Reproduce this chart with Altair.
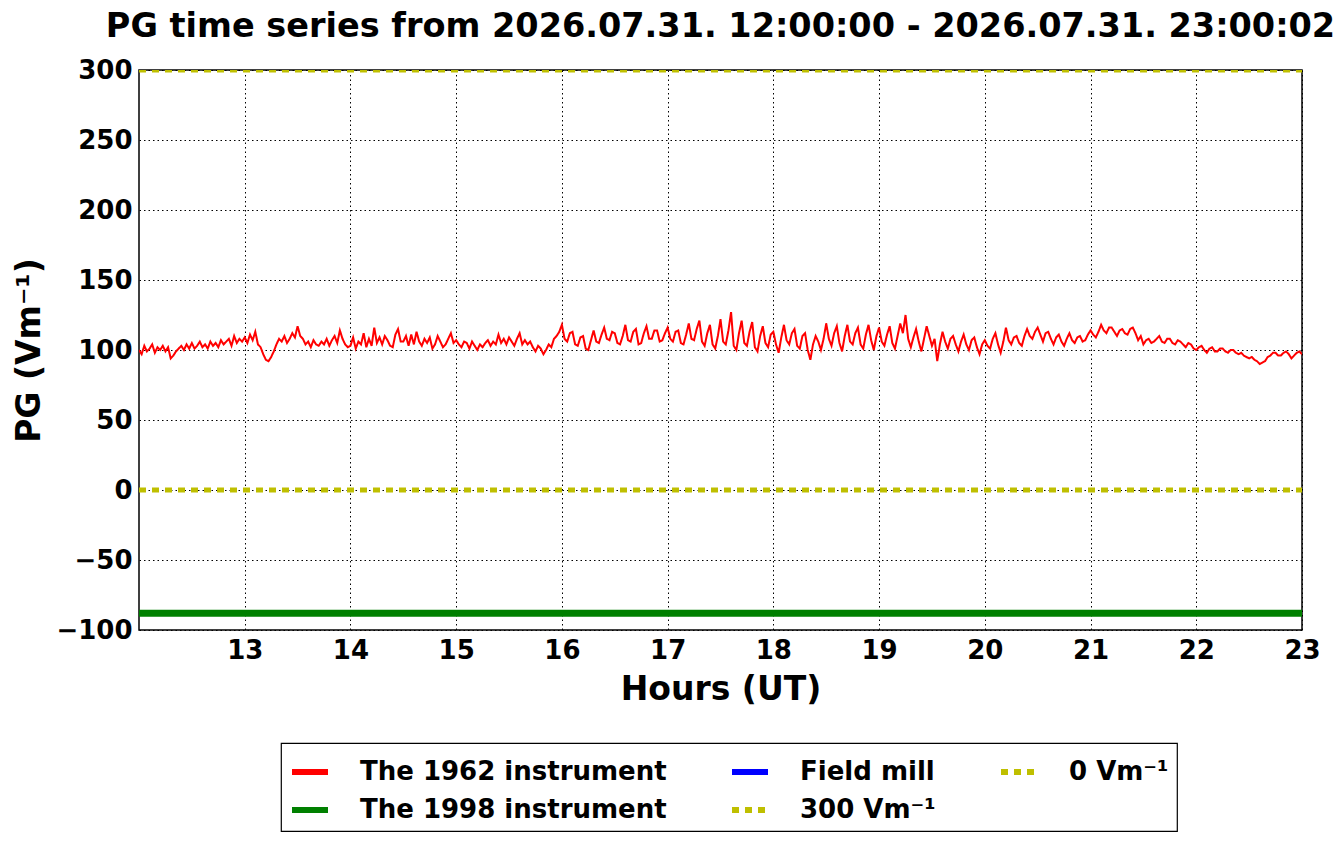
import altair as alt
import pandas as pd

# --- data ---
start_hour = 12.0
step_hour = 0.025
pg_1962 = [
    # 12
    100, 97, 103, 99, 101, 104, 98, 102, 100, 103, 99, 102, 94, 96, 99, 101, 103, 100, 104, 101,
    105, 101, 103, 106, 102, 104, 101, 106, 103, 105, 102, 107, 104, 106, 108, 103, 110, 105, 108, 106,
    # 13
    109, 105, 111, 107, 113, 104, 102, 97, 93, 92, 95, 99, 104, 108, 106, 110, 105, 108, 112, 109,
    117, 110, 108, 104, 106, 102, 107, 104, 103, 106, 104, 108, 103, 107, 110, 105, 114, 108, 104, 102,
    # 14
    103, 109, 101, 106, 104, 112, 102, 108, 103, 116, 105, 109, 104, 110, 107, 103, 102, 111, 115, 106,
    106, 110, 103, 111, 104, 113, 106, 103, 108, 105, 109, 101, 104, 110, 106, 102, 104, 108, 112, 105,
    # 15
    107, 104, 102, 106, 105, 101, 106, 103, 100, 104, 102, 105, 107, 103, 106, 104, 111, 105, 108, 104,
    109, 106, 103, 108, 112, 104, 107, 104, 106, 102, 99, 103, 101, 97, 100, 104, 102, 108, 110, 113,
    # 16
    118, 108, 106, 112, 113, 104, 103, 109, 110, 101, 100, 107, 114, 106, 105, 111, 116, 108, 107, 113,
    112, 105, 104, 110, 118, 107, 106, 113, 115, 104, 105, 112, 117, 108, 108, 114, 114, 106, 107, 112,
    # 17
    116, 108, 106, 113, 114, 105, 104, 111, 119, 108, 107, 115, 121, 106, 103, 112, 118, 104, 101, 110,
    122, 106, 104, 114, 127, 103, 100, 112, 121, 105, 103, 113, 120, 102, 99, 110, 117, 105, 102, 111,
    # 18
    113, 104, 98, 109, 118, 107, 104, 112, 115, 103, 101, 110, 112, 100, 93, 104, 110, 106, 100, 108,
    119, 108, 103, 112, 117, 105, 99, 110, 118, 106, 104, 112, 116, 104, 101, 111, 118, 107, 100, 110,
    # 19
    116, 106, 103, 111, 117, 105, 101, 110, 119, 112, 125, 108, 102, 109, 115, 106, 99, 108, 117, 110,
    103, 108, 92, 104, 113, 106, 101, 108, 110, 104, 99, 106, 111, 104, 100, 107, 109, 102, 97, 104,
    # 20
    107, 103, 101, 108, 112, 104, 98, 106, 116, 107, 104, 109, 110, 105, 103, 110, 115, 110, 108, 113,
    116, 111, 106, 112, 113, 108, 104, 109, 111, 106, 103, 108, 112, 107, 105, 109, 110, 106, 107, 111,
    # 21
    114, 111, 109, 113, 118, 114, 112, 116, 116, 113, 110, 114, 115, 112, 111, 115, 116, 112, 107, 110,
    104, 107, 108, 105, 106, 108, 110, 106, 105, 108, 108, 105, 104, 107, 106, 104, 102, 105, 104, 101,
    # 22
    100, 102, 103, 100, 98, 101, 102, 99, 99, 101, 101, 99, 98, 100, 100, 98, 97, 98, 96, 95,
    94, 95, 93, 92, 90, 91, 92, 95, 96, 98, 98, 96, 96, 98, 99, 97, 94, 96, 98, 99,
    # 23.00
    97,
]
pg_1998 = -88
ref_zero = 0
ref_300 = 300
x_range = [12, 23]

series_names = ["The 1962 instrument", "The 1998 instrument", "Field mill", "300 Vm⁻¹", "0 Vm⁻¹"]
series_colors = ["#ff0000", "#008000", "#0000ff", "#bfbf00", "#bfbf00"]
series_dash = [[1, 0], [1, 0], [1, 0], [7, 6], [7, 6]]

x_ticks = [13, 14, 15, 16, 17, 18, 19, 20, 21, 22, 23]
y_ticks = [-100, -50, 0, 50, 100, 150, 200, 250, 300]

red_df = pd.DataFrame({
    "hour": [start_hour + i * step_hour for i in range(len(pg_1962))],
    "pg": pg_1962,
    "series": "The 1962 instrument",
})
green_df = pd.DataFrame({"hour": x_range, "pg": [pg_1998] * 2, "series": "The 1998 instrument"})
ref_df = pd.DataFrame({
    "hour": x_range + x_range,
    "pg": [ref_zero] * 2 + [ref_300] * 2,
    "series": ["0 Vm⁻¹"] * 2 + ["300 Vm⁻¹"] * 2,
})

font = "DejaVu Sans"

x_enc = alt.X(
    "hour:Q",
    scale=alt.Scale(domain=x_range, nice=False, zero=False),
    axis=alt.Axis(values=x_ticks, title="Hours (UT)", format="d", labelFlush=False),
)
y_enc = alt.Y(
    "pg:Q",
    scale=alt.Scale(domain=[-100, 300], nice=False),
    axis=alt.Axis(values=y_ticks, title="PG (Vm⁻¹)", labelFlush=False),
)
color_enc = alt.Color(
    "series:N",
    scale=alt.Scale(domain=series_names, range=series_colors),
    legend=alt.Legend(title=None, orient="none", legendX=142, legendY=673, columns=3),
)
dash_enc = alt.StrokeDash(
    "series:N",
    scale=alt.Scale(domain=series_names, range=series_dash),
    legend=alt.Legend(title=None, orient="none", legendX=142, legendY=673, columns=3),
)

red = alt.Chart(red_df).mark_line(clip=True, strokeWidth=2).encode(
    x=x_enc, y=y_enc, color=color_enc, strokeDash=dash_enc, detail="series:N"
)
green = alt.Chart(green_df).mark_line(clip=True, strokeWidth=7).encode(
    x=x_enc, y=y_enc, color=color_enc, strokeDash=dash_enc, detail="series:N"
)
refs = alt.Chart(ref_df).mark_line(clip=True, strokeWidth=5).encode(
    x=x_enc, y=y_enc, color=color_enc, strokeDash=dash_enc, detail="series:N"
)

chart = (
    alt.layer(green, red, refs)
    .properties(
        width=1163,
        height=560,
        autosize=alt.AutoSizeParams(type="none"),
        padding={"left": 131, "top": 62, "right": 31, "bottom": 206},
        title=alt.Title(
            "PG time series from 2026.07.31. 12:00:00 - 2026.07.31. 23:00:02",
            font=font,
            fontSize=33.5,
            fontWeight="bold",
            color="black",
            anchor="middle",
            offset=13,
        ),
    )
    .configure_view(stroke="black", strokeWidth=1.5)
    .configure_axis(
        labelFont=font,
        labelFontSize=26,
        labelFontWeight="bold",
        labelColor="black",
        titleFont=font,
        titleFontSize=33,
        titleFontWeight="bold",
        titleColor="black",
        grid=True,
        gridColor="black",
        gridDash=[1.5, 3],
        gridOpacity=1,
        gridWidth=1,
        ticks=False,
        domain=False,
        labelPadding=7,
    )
    .configure_axisY(titlePadding=9)
    .configure_axisX(titlePadding=10)
    .configure_legend(
        strokeColor="black",
        strokeWidth=1.2,
        fillColor="white",
        padding=8,
        symbolType="stroke",
        symbolSize=1296,
        symbolStrokeWidth=6,
        labelFont=font,
        labelFontSize=26,
        labelFontWeight="bold",
        labelColor="black",
        labelOffset=29,
        labelLimit=500,
        columnPadding=53,
        rowPadding=4,
    )
)

chart.save("out.html", embed_options={"renderer": "svg", "actions": False})
